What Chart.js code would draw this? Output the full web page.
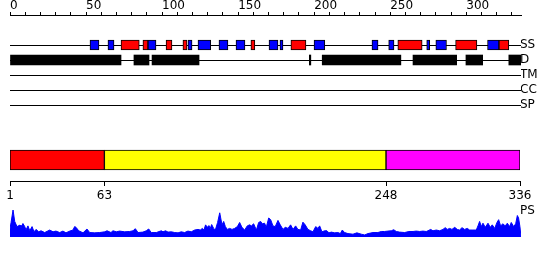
<!DOCTYPE html>
<html>
<head>
<meta charset="utf-8">
<script src="https://cdn.jsdelivr.net/npm/chart.js@4"></script>
<style>
  body { margin: 0; background: #fff; }
  #wrap { position: relative; width: 550px; height: 260px; }
  canvas { position: absolute; left: 0; }
</style>
</head>
<body>
<div id="wrap">
  <canvas id="tracks" width="550" height="115" style="top:0px"></canvas>
  <canvas id="domains" width="550" height="75" style="top:130px"></canvas>
  <canvas id="ps" width="550" height="60" style="top:200px"></canvas>
</div>
<script>
// ---- data ----
var seqLength = 336;
var trackNames = ['SS', 'D', 'TM', 'CC', 'SP'];

// secondary structure: red = helix, blue = strand (residue ranges)
var helixRanges = [[73, 85], [87.4, 90.7], [102.6, 106.5], [113.7, 116.4], [158.4, 161],
    [184.7, 194.6], [255, 271], [293, 307], [321.5, 328]];
var strandRanges = [[52.6, 58.5], [64.4, 68.4], [90.7, 96], [117, 119.7], [123.6, 132],
    [137.4, 143.3], [148.6, 154.5], [170.3, 176.2], [177.5, 179.5], [199.9, 207],
    [238, 242], [249, 252.5], [274, 276], [280, 287], [314, 321.5]];
// disorder
var disorderRanges = [[0, 73], [81.5, 91.4], [93.4, 124.3], [196.8, 197.8], [205.3, 257],
    [265, 293.7], [299.8, 310.8], [328, 336]];

// domains
var domainStart = [1, 63, 248];
var domainEnd = [63, 248, 336];
var domainColors = ['#ff0000', '#ffff00', '#ff00ff'];
var domainTicks = [1, 63, 248, 336];

// PS profile (residue, score)
var psPos = [0, 0.7, 2, 3.1, 4.6, 6.6, 7.2, 8.5, 9.7, 10.5, 11.8, 13, 14.5, 15.8, 17.1, 18.9, 20.4,
    22.8, 26.1, 28.3, 30.2, 32.7, 34.8, 36.8, 39.3, 41.4, 42.5, 43.4, 45.2, 48, 50.6, 52.4, 55.7,
    59, 62.3, 63.8, 66.4, 67.7, 69.9, 72.1, 75.4, 78.7, 80.9, 82.4, 84.2, 87.4, 89.6, 91.2, 92.9,
    96.2, 99.5, 100.6, 102.3, 103.9, 106.1, 108.3, 110.5, 112.6, 114.8, 117, 119.2, 121.4, 123.6,
    125.1, 126.5, 127.5, 128.6, 129.7, 130.8, 131.7, 132.6, 133.9, 135, 136.5, 137.9, 139.4,
    140.5, 141.6, 142.9, 144.4, 146, 147.7, 149.5, 151, 152.5, 154.3, 156, 157.6, 158.7, 160.2,
    162, 163.5, 164.8, 165.9, 167.4, 168.5, 170.1, 171.4, 172.9, 174.4, 176.2, 177.7, 179.5, 181,
    182.8, 184.5, 186.1, 187.8, 189.3, 191.1, 192.6, 194.1, 195.9, 197.7, 199.2, 201, 202.5,
    203.6, 205.1, 206.9, 208.4, 209.7, 211.3, 213.5, 215.6, 217.2, 218.5, 220, 222.2, 225.5,
    228.1, 231, 233.2, 235.4, 238.7, 241.9, 244.1, 246.3, 248.5, 250.7, 252.3, 254, 256.2, 259.5,
    262.3, 265, 267.1, 269.4, 271.5, 273.7, 274.8, 276.6, 278.1, 280.3, 282.5, 284.7, 286.2,
    287.5, 289.1, 290.6, 292.4, 294.1, 295.6, 297.2, 298.9, 300.7, 302.2, 304.4, 306.6, 307.7,
    308.8, 309.9, 311, 312.5, 314.3, 315.8, 317.1, 318.7, 320.2, 321.3, 322.6, 324.1, 325.6, 327,
    328.5, 329.6, 331.2, 332.5, 333.6, 334.4, 335.3, 336];
var psVal = [8, 14, 26, 15, 10, 11.5, 9, 13, 10, 6.7, 10.7, 6, 10, 5, 7.3, 5, 6,
    4.3, 6.7, 5, 5.7, 4.3, 5.7, 4, 5.7, 6.7, 10, 9.3, 6, 4, 7.7, 4.3, 4,
    4.3, 5, 6, 4.3, 6, 5, 5.7, 5, 5.3, 6, 8, 4.3, 4.7, 6, 7.7, 4.3,
    4.3, 6, 5, 6, 4.7, 5, 4.3, 4, 5, 4.3, 5.7, 5, 6.7, 7.3,
    6.7, 8.3, 6.7, 11.7, 9.3, 11, 8.3, 12, 8.3, 6.7, 14, 23.3, 11.7,
    15, 10, 7.3, 8.3, 7.3, 8.3, 10, 14, 9.3, 6.7, 10.7, 11.7, 10.7, 12.7,
    6.7, 14, 15, 12.7, 13.3, 9.3, 18.3, 16.7, 10.7, 10, 16, 11.7, 7.3, 9.3,
    8.3, 11.7, 7.3, 10.7, 7.3, 6.7, 14.3, 11.7, 7.3, 6, 5, 10, 8.3,
    10.7, 5, 6, 6, 4, 4.7, 4, 4.3, 3.3, 6.7, 4.3, 3.3, 2.7,
    4, 2.7, 2, 3.3, 4.3, 4.3, 5.3, 5.3, 5.7, 6, 7, 5.3, 4.7, 4.3,
    5.3, 5.3, 5.7, 5.3, 5.7, 5.3, 6, 7.3, 6, 6.7, 6, 7.3, 9,
    7.3, 8.3, 7.3, 9.3, 7.3, 6.7, 9, 7.3, 8.3, 6.7, 6.7, 6.7, 10.7,
    15, 10, 13.3, 9.3, 13.3, 9.3, 11.7, 8.3, 14, 16.7, 10.7, 12.7, 10.7, 13.3,
    10, 14, 10, 12.7, 20.7, 18.3, 10, 0];

Chart.defaults.font.family = "'DejaVu Sans', sans-serif";
Chart.defaults.color = '#000';
Chart.defaults.animation = false;
Chart.defaults.plugins.legend.display = false;
Chart.defaults.plugins.tooltip.enabled = false;

function rangesToBars(ranges, track) {
    var out = [];
    for (var i = 0; i < ranges.length; i++) {
        out.push({ x: ranges[i], y: track });
    }
    return out;
}

/*
 * Top part: ruler and the SS / D / TM / CC / SP tracks
 */
function drawTracks() {
    // two blank rows push the first track down under the ruler
    var rows = ['', ' '].concat(trackNames);
    new Chart(document.getElementById('tracks'), {
        type: 'bar',
        data: {
            labels: rows,
            datasets: [
                { data: rangesToBars(disorderRanges, 'D'), backgroundColor: '#000', borderWidth: 0,
                  barThickness: 10, grouped: false },
                { data: rangesToBars(helixRanges, 'SS'), backgroundColor: '#ff0000', borderColor: '#000',
                  borderWidth: 1, borderSkipped: false, barThickness: 10, grouped: false },
                { data: rangesToBars(strandRanges, 'SS'), backgroundColor: '#0000ff', borderColor: '#000',
                  borderWidth: 1, borderSkipped: false, barThickness: 10, grouped: false }
            ]
        },
        options: {
            indexAxis: 'y',
            responsive: false,
            layout: { padding: { left: 10, right: 0, top: 0, bottom: 10 } },
            scales: {
                x: {
                    type: 'linear', position: 'top', min: 0, max: seqLength,
                    grid: { display: true, drawOnChartArea: false, drawTicks: true, tickLength: 3, color: '#000' },
                    border: { display: true, color: '#000' },
                    ticks: {
                        stepSize: 10, includeBounds: false, autoSkip: false, maxRotation: 0, minRotation: 0,
                        align: 'start', padding: 0, font: { size: 12, lineHeight: 1 },
                        callback: function (v) { return v % 50 === 0 ? String(v) : ''; }
                    },
                    afterFit: function (s) { s.height = 15; }
                },
                y: {
                    type: 'category', position: 'right', offset: false,
                    grid: {
                        display: true, drawTicks: false, offset: false,
                        color: function (c) { return c.index < 2 ? 'rgba(0,0,0,0)' : '#000'; }
                    },
                    border: { display: false },
                    ticks: { padding: -1, autoSkip: false, font: { size: 12 } },
                    afterFit: function (s) { s.width = 29; }
                }
            }
        }
    });
}

/*
 * Middle part: domain bar with its own axis
 */
function drawDomains() {
    var bars = [];
    for (var i = 0; i < domainStart.length; i++) {
        bars.push({ x: [domainStart[i], domainEnd[i]], y: 'dom' });
    }
    new Chart(document.getElementById('domains'), {
        type: 'bar',
        data: {
            labels: ['dom'],
            datasets: [{ data: bars, backgroundColor: domainColors, borderColor: '#000', borderWidth: 1,
                         borderSkipped: false, barThickness: 20 }]
        },
        options: {
            indexAxis: 'y',
            responsive: false,
            layout: { padding: { left: 10, right: 30, top: 9, bottom: 0 } },
            scales: {
                x: {
                    type: 'linear', position: 'bottom', min: 1, max: seqLength,
                    afterBuildTicks: function (s) {
                        s.ticks = domainTicks.map(function (v) { return { value: v }; });
                    },
                    grid: { display: true, drawOnChartArea: false, tickLength: 5, color: '#000' },
                    border: { display: true, color: '#000' },
                    ticks: { autoSkip: false, maxRotation: 0, padding: 4, font: { size: 12, lineHeight: 1 } },
                    afterFit: function (s) { s.height = 24; }
                },
                y: { type: 'category', display: false }
            }
        }
    });
}

/*
 * Bottom part: PS profile as a filled area
 */
function drawPS() {
    var pts = [];
    for (var i = 0; i < psPos.length; i++) {
        pts.push({ x: psPos[i], y: psVal[i] });
    }
    new Chart(document.getElementById('ps'), {
        type: 'line',
        data: {
            datasets: [{ data: pts, fill: 'origin', backgroundColor: '#0000ff', borderColor: '#0000ff',
                         borderWidth: 1, pointRadius: 0, tension: 0 }]
        },
        options: {
            responsive: false,
            layout: { padding: { left: 10, right: 0, top: 10, bottom: 23 } },
            scales: {
                x: { type: 'linear', min: 0, max: seqLength, display: false },
                y: {
                    type: 'linear', position: 'right', min: 0, max: 26,
                    afterBuildTicks: function (s) { s.ticks = [{ value: 26 }]; },
                    grid: { display: false, drawTicks: false },
                    border: { display: false },
                    ticks: { padding: -1, labelOffset: 1, font: { size: 12 }, callback: function () { return 'PS'; } },
                    afterFit: function (s) { s.width = 29; }
                }
            }
        }
    });
}

drawTracks();
drawDomains();
drawPS();
</script>
</body>
</html>
